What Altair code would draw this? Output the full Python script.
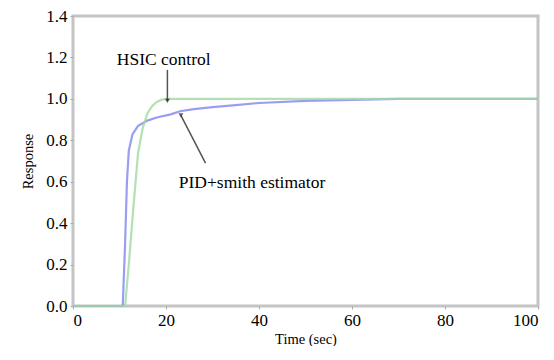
import altair as alt
import pandas as pd

# PID+smith estimator (blue)
pid_t = [0, 10.7, 11.2, 11.6, 12.0, 12.8, 14, 16, 18, 21, 23, 26, 30, 35, 40, 50, 60, 70, 80, 90, 100]
pid_v = [0, 0, 0.3, 0.6, 0.75, 0.83, 0.87, 0.895, 0.91, 0.925, 0.94, 0.95, 0.96, 0.97, 0.98, 0.99, 0.995, 1.0, 1.0, 1.0, 1.0]
# HSIC control (green)
hsic_t = [0, 11.2, 12, 13, 14, 15, 16, 17, 18, 19, 20, 25, 100]
hsic_v = [0, 0, 0.2, 0.48, 0.74, 0.86, 0.93, 0.965, 0.985, 0.995, 1.0, 1.0, 1.0]

# annotations: label, text pos, arrow start, arrow end
ann_label = ["HSIC control", "PID+smith estimator"]
ann_tx = [19.5, 38.5]
ann_ty = [1.19, 0.595]
arr_x0 = [20.3, 28.5]
arr_y0 = [1.14, 0.69]
arr_x1 = [20.3, 23.2]
arr_y1 = [0.99, 0.92]

FONT = "Liberation Serif"

df = pd.concat([
    pd.DataFrame({"t": pid_t, "v": pid_v, "s": "PID"}),
    pd.DataFrame({"t": hsic_t, "v": hsic_v, "s": "HSIC"}),
])

xs = alt.Scale(domain=[0, 100], nice=False)
ys = alt.Scale(domain=[0, 1.4], nice=False)

lines = alt.Chart(df).mark_line(strokeWidth=2.2, opacity=0.8).encode(
    x=alt.X("t:Q", scale=xs, title="Time (sec)",
            axis=alt.Axis(values=[0, 20, 40, 60, 80, 100], format="d")),
    y=alt.Y("v:Q", scale=ys, title="Response",
            axis=alt.Axis(values=[0, 0.2, 0.4, 0.6, 0.8, 1.0, 1.2, 1.4], format=".1f")),
    color=alt.Color("s:N", scale=alt.Scale(domain=["PID", "HSIC"], range=["#7f86ee", "#9fd9a0"]), legend=None),
    detail="s:N",
)

ann = pd.DataFrame({"label": ann_label, "tx": ann_tx, "ty": ann_ty,
                    "x0": arr_x0, "y0": arr_y0, "x1": arr_x1, "y1": arr_y1})

shafts = alt.Chart(ann).mark_rule(color="#555555", strokeWidth=1.5).encode(
    x=alt.X("x0:Q", scale=xs), y=alt.Y("y0:Q", scale=ys), x2="x1:Q", y2="y1:Q")
heads = alt.Chart(ann).mark_point(shape="triangle-down", filled=True, color="#222222", size=25).encode(
    x=alt.X("x1:Q", scale=xs), y=alt.Y("y1:Q", scale=ys))
texts = alt.Chart(ann).mark_text(font=FONT, fontSize=17.5, color="black").encode(
    x=alt.X("tx:Q", scale=xs), y=alt.Y("ty:Q", scale=ys), text="label:N")

chart = alt.layer(lines, shafts, heads, texts).properties(
    width=465, height=290,
    autosize=alt.AutoSizeParams(type="none"),
    padding={"left": 65, "top": 8, "right": 6, "bottom": 40},
).configure(font=FONT).configure_view(
    stroke="#c4c4c4", strokeWidth=3
).configure_axis(
    labelFont=FONT, titleFont=FONT,
    labelFontSize=17, titleFontSize=14.5, titleFontWeight="normal",
    labelColor="black", titleColor="black",
    domain=False, grid=False, tickColor="#aaaaaa", tickSize=3, tickOffset=0,
    labelPadding=3,
).configure_axisX(titlePadding=4).configure_axisY(titlePadding=10)

chart.save("out.html", embed_options={"renderer": "svg", "actions": False})
